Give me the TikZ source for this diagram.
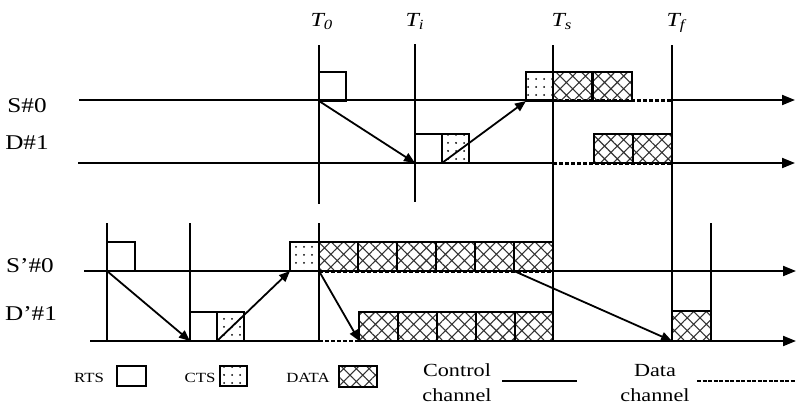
\documentclass[tikz,border=0pt]{standalone}
\usepackage{fontspec}
\setmainfont[FakeStretch=1.2]{Liberation Serif}
\usetikzlibrary{arrows.meta,patterns.meta}
\begin{document}
\begin{tikzpicture}[x=1pt,y=-1pt,
  ln/.style={line width=2pt},
  dln/.style={line width=2.2pt,dash pattern=on 4pt off 2pt},
  axis/.style={ln,-{Triangle[length=13pt,width=10pt]}},
  msg/.style={line width=1.8pt,-{Triangle[length=11pt,width=9pt]}},
  box/.style={draw,line width=2pt,inner sep=0pt,outer sep=0pt,anchor=south west,minimum height=29pt},
  rtsbox/.style={box,minimum width=27pt},
  ctsbox/.style={box,minimum width=27pt,pattern={Dots[distance=8pt,radius=1pt]},pattern color=black},
  databox/.style={box,minimum width=39pt,pattern={Hatch[angle=45,distance=9pt,line width=1.1pt]},pattern color=black!80},
  lbl/.style={font=\fontsize{21}{23}\selectfont},
  tl/.style={font=\fontsize{20}{22}\selectfont\itshape,anchor=base west},
  leg/.style={font=\fontsize{14}{16}\selectfont},
  leg2/.style={font=\fontsize{18.5}{25}\selectfont,align=center}]
\useasboundingbox (0,0) rectangle (796,407);

% time labels
\node[tl] (t0) at (307,26) {T\textsubscript{0}};
\node[tl] (ti) at (402,26) {T\textsubscript{i}};
\node[tl] (ts) at (548,26) {T\textsubscript{s}};
\node[tl] (tf) at (663,26) {T\textsubscript{f}};

% row labels
\node[lbl] (ls0) at (27,106) {S\#0};
\node[lbl] (ld1) at (27,143) {D\#1};
\node[lbl] (ls0p) at (30,266) {S’\#0};
\node[lbl] (ld1p) at (31,314) {D’\#1};

% coordinates
\coordinate (s0a) at (79,100);  \coordinate (s0e) at (795,100);
\coordinate (d1a) at (78,163);  \coordinate (d1e) at (795,163);
\coordinate (p0a) at (84,271);  \coordinate (p0e) at (796,271);
\coordinate (q1a) at (90,341);  \coordinate (q1e) at (796,341);

% vertical time lines
\coordinate (v0t) at (319,45);   \coordinate (v0b) at (319,204);
\coordinate (vit) at (414.5,44); \coordinate (vib) at (414.5,202);
\coordinate (vst) at (553,45);   \coordinate (vsb) at (553,341);
\coordinate (vft) at (672,45);   \coordinate (vfb) at (672,341);
\coordinate (w0t) at (319,223);  \coordinate (w0b) at (319,341);
\coordinate (w1t) at (107,223);  \coordinate (w1b) at (107,341);
\coordinate (w2t) at (190,223);  \coordinate (w2b) at (190,341);
\coordinate (w3t) at (711,223);  \coordinate (w3b) at (711,341);
\foreach \a/\b in {v0t/v0b,vit/vib,vst/vsb,vft/vfb,w0t/w0b,w1t/w1b,w2t/w2b,w3t/w3b}
  \draw[ln] (\a) -- (\b);

% top channels
\draw[ln] (s0a) -- (553,100);
\draw[dln] (553,100.5) -- (672,100.5);
\draw[axis] (672,100) -- (s0e);
\draw[ln] (d1a) -- (553,163);
\draw[dln] (553,163.5) -- (672,163.5);
\draw[axis] (672,163) -- (d1e);

% bottom channels
\draw[ln] (p0a) -- (319,271);
\draw[dln] (319,271.5) -- (553,271.5);
\draw[axis] (553,271) -- (p0e);
\draw[ln] (q1a) -- (319,341);
\draw[dln] (319,341) -- (553,341);
\draw[axis] (553,341) -- (q1e);

% top boxes
\node[rtsbox] (r1) at (319,101) {};
\node[rtsbox] (r2) at (415,163) {};
\node[ctsbox] (c2) at (442,163) {};
\node[ctsbox] (c1) at (526,101) {};
\node[databox] (da1) at (553,101) {};
\node[databox] (da2) at (592.5,101) {};
\node[databox] (db1) at (594,163) {};
\node[databox] (db2) at (633,163) {};

% bottom boxes
\node[rtsbox,minimum width=28pt] (r3) at (107,271) {};
\node[rtsbox] (r4) at (190,341) {};
\node[ctsbox] (c4) at (217,341) {};
\node[ctsbox,minimum width=29pt] (c3) at (290,271) {};
\foreach \i in {0,...,5}
  \node[databox] (dp\i) at (319+\i*39,271) {};
\foreach \i in {0,...,4}
  \node[databox,minimum width=38.8pt] (dq\i) at (359.3+\i*38.8,341) {};
\node[databox,minimum height=30pt] (dz) at (672,341) {};

% messages
\draw[msg] (r1.south west) -- (r2.south west);
\draw[msg] (c2.south west) -- (c1.south west);
\draw[msg] (r3.south west) -- (r4.south west);
\draw[msg] (c4.south west) -- (c3.south west);
\draw[msg] (dp0.south west) -- (dq0.south west);
\draw[msg] (dp5.south west) -- (dz.south west);

% legend
\node[leg] (lrts) at (89,377.5) {RTS};
\node[rtsbox,minimum width=29pt,minimum height=20pt] (lr) at (117,386) {};
\node[leg] (lcts) at (200,377.5) {CTS};
\node[ctsbox,minimum width=27pt,minimum height=20pt] (lc) at (219.5,386) {};
\node[leg] (ldata) at (308,377.5) {DATA};
\node[databox,minimum width=38pt,minimum height=21pt] (ld) at (338.5,386.5) {};
\node[leg2] (lctl) at (457,383) {Control\\channel};
\coordinate (lca) at (502,381); \coordinate (lcb) at (577,381);
\draw[line width=1.6pt] (lca) -- (lcb);
\node[leg2] (ldat) at (655,383) {Data\\channel};
\coordinate (lda) at (697,381); \coordinate (ldb) at (796,381);
\draw[line width=1.8pt,dash pattern=on 4pt off 1.5pt] (lda) -- (ldb);
\end{tikzpicture}
\end{document}
